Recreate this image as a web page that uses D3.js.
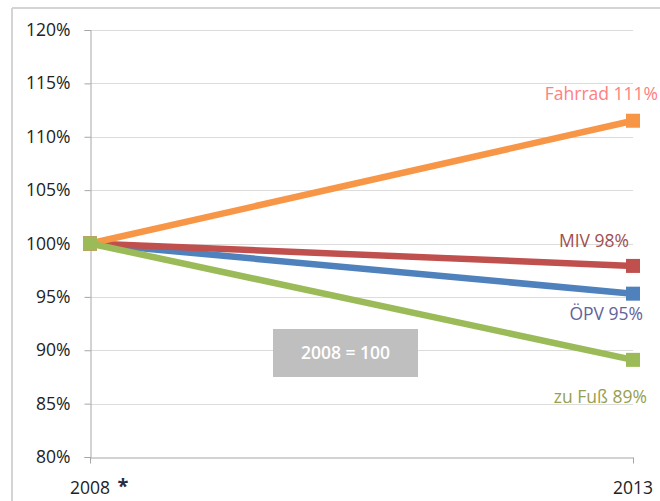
<!DOCTYPE html>
<html><head><meta charset="utf-8">
<script src="https://cdn.jsdelivr.net/npm/d3@7"></script>
<style>
html,body{margin:0;padding:0;background:#fff;}
svg{display:block;font-family:"Open Sans",sans-serif;}
</style></head>
<body>
<svg id="c" width="660" height="501"></svg>
<script>
const years = ["2008", "2013"];
const yearLabels = ["2008", "2013"];
const seriesNames = ["ÖPV", "MIV", "Fahrrad", "zu Fuß"];
const valuesOEPV = [100, 95.3];
const valuesMIV = [100, 97.9];
const valuesFahrrad = [100, 111.5];
const valuesFuss = [100, 89.1];
const endLabels = ["ÖPV 95%", "MIV 98%", "Fahrrad 111%", "zu Fuß 89%"];
const lineColors = ["#4F81BD", "#C0504D", "#F79646", "#9BBB59"];
const labelColors = ["#62639B", "#A0504F", "#FF8080", "#98A050"];
const yTicks = [80, 85, 90, 95, 100, 105, 110, 115, 120];
const baseNote = "2008 = 100";

const seriesValues = [valuesOEPV, valuesMIV, valuesFahrrad, valuesFuss];

const svg = d3.select("#c");
// chart border
svg.append("line").attr("x1", 12).attr("x2", 660).attr("y1", 8).attr("y2", 8)
  .attr("stroke", "#d4d4d4").attr("stroke-width", 2);
svg.append("line").attr("x1", 12).attr("x2", 12).attr("y1", 8).attr("y2", 501)
  .attr("stroke", "#d4d4d4").attr("stroke-width", 2);

const x = d3.scalePoint().domain(years).range([90, 633]);
const y = d3.scaleLinear().domain([80, 120]).range([457, 30]);

// gridlines
svg.append("g").selectAll("line").data(yTicks.filter(t => t > 80)).join("line")
  .attr("x1", 90).attr("x2", 633)
  .attr("y1", d => Math.round(y(d)) + 0.5).attr("y2", d => Math.round(y(d)) + 0.5)
  .attr("stroke", "#dcdcdc").attr("stroke-width", 1);

// y axis
const yAxis = svg.append("g").attr("transform", "translate(90.5,0)")
  .call(d3.axisLeft(y).tickValues(yTicks).tickFormat(d => d + "%").tickSize(6).tickPadding(14));
yAxis.select(".domain").attr("stroke", "#a6a6a6");
yAxis.selectAll(".tick line").attr("stroke", "#a6a6a6");
yAxis.selectAll(".tick text").attr("font-size", 17.5).attr("fill", "#222")
  .attr("font-family", "Open Sans, sans-serif");

// x axis
const xAxis = svg.append("g").attr("transform", "translate(0," + (Math.round(y(80)) + 0.5) + ")")
  .call(d3.axisBottom(x).tickSize(6).tickSizeOuter(0).tickFormat(() => ""));
xAxis.select(".domain").attr("stroke", "#a6a6a6");
xAxis.selectAll(".tick line").attr("stroke", "#a6a6a6");

// x labels
svg.append("text").attr("x", x(years[0])).attr("y", 494).attr("text-anchor", "middle")
  .attr("font-size", 17.5).attr("fill", "#222").text(yearLabels[0]);
svg.append("text").attr("x", x(years[0]) + 33).attr("y", 493).attr("text-anchor", "middle")
  .attr("font-size", 20).attr("font-weight", "bold").attr("fill", "#1f2d4d").text("*");
svg.append("text").attr("x", x(years[1])).attr("y", 494).attr("text-anchor", "middle")
  .attr("font-size", 17.5).attr("fill", "#222").text(yearLabels[1]);

// note box
const boxG = svg.append("g");
boxG.append("rect").attr("x", 273).attr("y", 329).attr("width", 145).attr("height", 48)
  .attr("fill", "#bfbfbf");
boxG.append("text").attr("x", 345.5).attr("y", 359).attr("text-anchor", "middle")
  .attr("font-size", 17.5).attr("font-weight", 600).attr("fill", "#fff").text(baseNote);

// lines
const line = d3.line().x((d, i) => x(years[i])).y(d => y(d));
const order = [0, 1, 2, 3];
order.forEach(i => {
  svg.append("path").datum(seriesValues[i]).attr("d", line)
    .attr("fill", "none").attr("stroke", lineColors[i]).attr("stroke-width", 6.5)
    .attr("stroke-linejoin", "round");
});
const ms = 14;
order.forEach(i => {
  svg.append("g").selectAll("rect").data(seriesValues[i]).join("rect")
    .attr("x", (d, j) => x(years[j]) - ms / 2).attr("y", d => y(d) - ms / 2)
    .attr("width", ms).attr("height", ms).attr("fill", lineColors[i]);
});

// end labels
const labelPos = [
  {x: 643, y: 320},
  {x: 629, y: 247},
  {x: 658, y: 100},
  {x: 647, y: 403}
];
endLabels.forEach((t, i) => {
  svg.append("text").attr("x", labelPos[i].x).attr("y", labelPos[i].y)
    .attr("text-anchor", "end").attr("font-size", 17.5).attr("fill", labelColors[i]).text(t);
});
</script>
</body></html>
